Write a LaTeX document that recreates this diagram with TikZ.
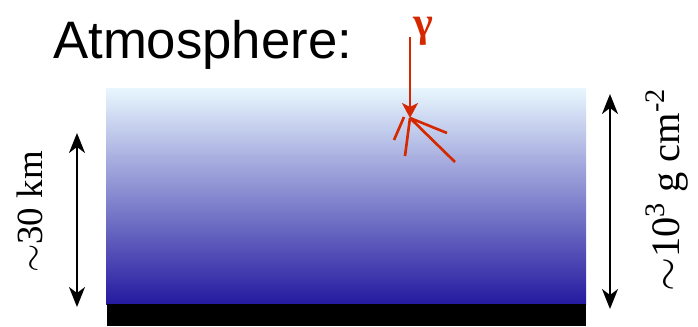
\documentclass[tikz,border=0pt]{standalone}
\usepackage{fontspec}
\setmainfont{Liberation Serif}
\setsansfont{Liberation Sans}
\usetikzlibrary{arrows.meta,calc}
\definecolor{SkyTopClr}{RGB}{232,247,254}
\definecolor{SkyBotClr}{RGB}{36,26,160}
\definecolor{GammaClr}{RGB}{214,40,0}
\tikzset{bigtip/.tip={Stealth[length=0.4cm,width=0.32cm,inset=0.12cm]}}

\begin{document}
\begin{tikzpicture}[x=0.02cm,y=-0.02cm]
\useasboundingbox (0,0) rectangle (698,326);

\coordinate (TL) at (106,88);
\coordinate (BR) at (586,304);
\coordinate (G) at (586,326);

\shade[top color=SkyTopClr,bottom color=SkyBotClr] (TL) rectangle (BR);
\fill[black] (107,304) rectangle (G);

\node[font=\sffamily\fontsize{30}{36}\selectfont,anchor=base west] (atm) at (47,58) {Atmosphere:};

% height arrows
\coordinate (LA) at (77,133);
\coordinate (LB) at (77,307);
\draw[line width=1.2pt,bigtip-bigtip] (LA) -- (LB);
\node[rotate=90,font=\fontsize{21}{25}\selectfont] (km) at (30,212) {$\sim$30 km};

\coordinate (RA) at (610,94);
\coordinate (RB) at (610,309);
\draw[line width=1.2pt,bigtip-bigtip] (RA) -- (RB);
\node[rotate=90,font=\fontsize{23}{27}\selectfont] (col) at (667,190) {$\sim$10\textsuperscript{3} g cm\textsuperscript{-2}};

% gamma and shower
\node[text=GammaClr,font=\fontsize{24}{28}\selectfont\bfseries] (gam) at (423,31) {γ};
\coordinate (S) at (410,37);
\coordinate (P) at (410,118);
\draw[GammaClr,line width=1.5pt,-{Stealth[length=0.3cm,width=0.32cm,inset=0.08cm]}] (S) -- (P);
\draw[GammaClr,line width=1.5pt] (P) -- (447,133) (P) -- (455,162) (P) -- (405,156);
\draw[GammaClr,line width=1.5pt] (404,117) -- (394,140);

\end{tikzpicture}
\end{document}
